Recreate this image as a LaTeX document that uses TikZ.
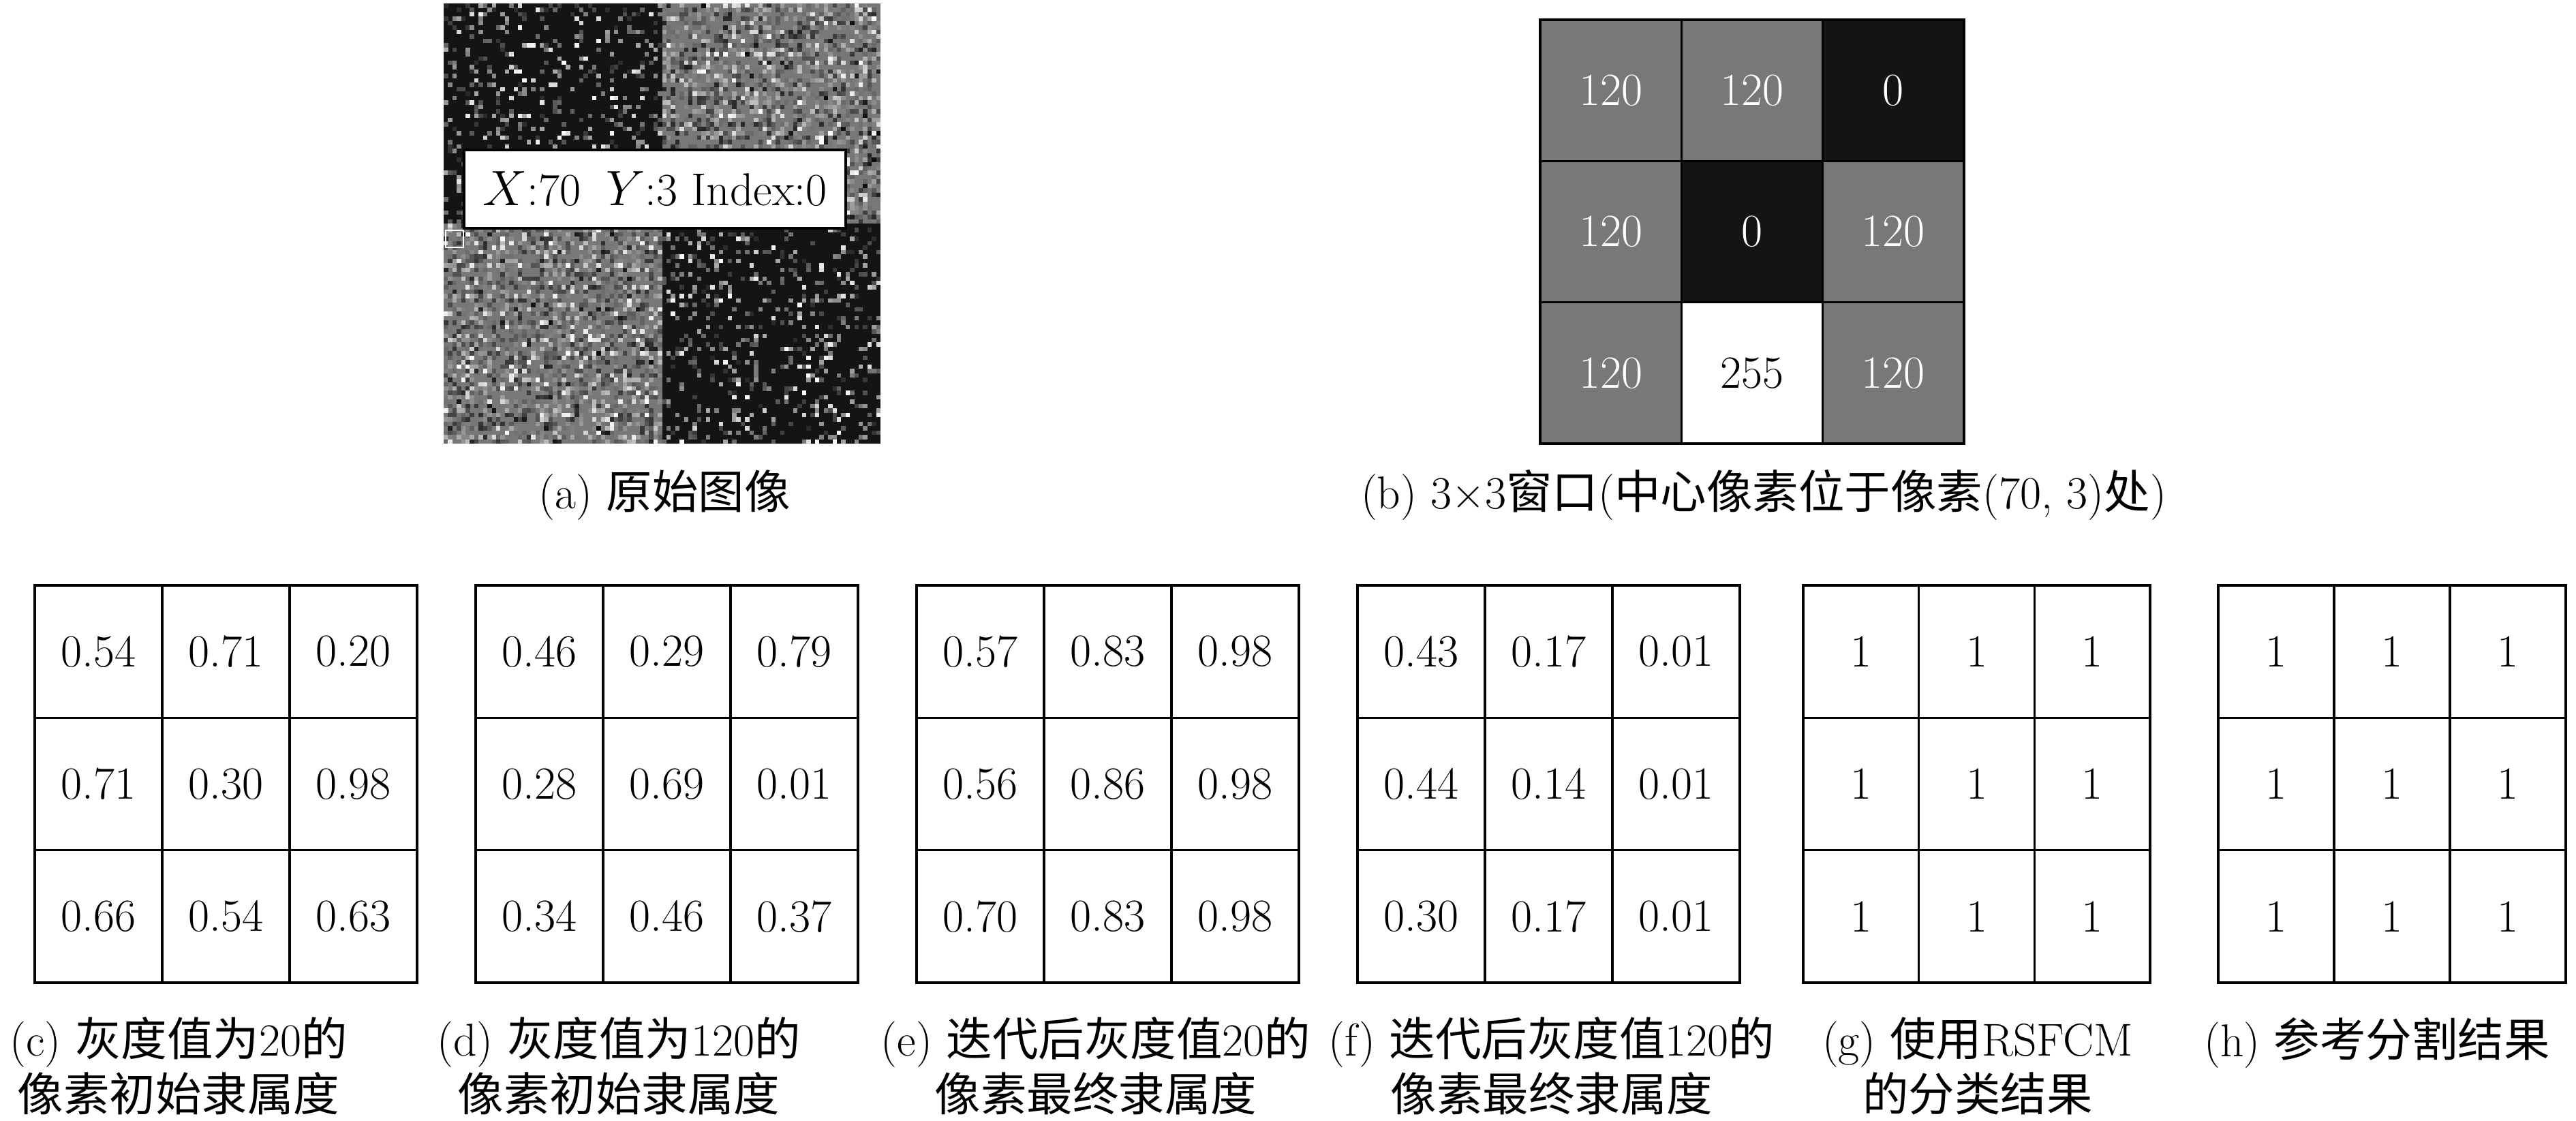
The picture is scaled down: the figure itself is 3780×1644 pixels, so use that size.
\documentclass[tikz,border=0pt]{standalone}
\usepackage{fontspec}
\newfontfamily\cjk{Noto Sans CJK SC}
\definecolor{gA}{HTML}{787878}
\definecolor{gB}{HTML}{141414}
\newcommand\myfs{\fontsize{19.2}{22.76}\selectfont}
\tikzset{
  cell/.style={draw=black, line width=1pt, inner sep=0pt, font=\myfs, minimum height=1.9433cm},
  bcell/.style={draw=black, line width=1pt, inner sep=0pt, font=\myfs, minimum width=2.0733cm, minimum height=2.0733cm},
  captxt/.style={inner sep=0pt, font=\myfs, align=center, anchor=base},
  lbl/.style={draw=black, fill=white, line width=1pt, inner sep=0pt, font=\myfs, minimum width=5.6cm, minimum height=1.15cm}
}
\newcommand\memgrid[4]{% #1 prefix, #2 left x, #3 cell width, #4 values
  \foreach \v [count=\k from 0] in {#4} {
    \pgfmathtruncatemacro\cc{mod(\k,3)}
    \pgfmathtruncatemacro\rr{div(\k,3)}
    \node[cell, minimum width=#3*0.01cm] (#1\rr\cc) at ({#2+(\cc+0.5)*#3},{859+(\rr+0.5)*194.33}) {\v};
  }
}
\begin{document}
\begin{tikzpicture}[x=0.01cm, y=-0.01cm]
\useasboundingbox (0,0) rectangle (3780,1644);
% (a) noisy image
\fill[gB] (651,5) rectangle (971.5,328);
\fill[gA] (971.5,5) rectangle (1292,328);
\fill[gA] (651,328) rectangle (971.5,651);
\fill[gB] (971.5,328) rectangle (1292,651);
\pgfmathsetseed{2024}
\foreach \i in {0,...,99}{
  \foreach \j in {0,...,99}{
    \pgfmathsetmacro\r{rnd}
    \pgfmathtruncatemacro\dk{((\i<50)==(\j<50))}
    \ifnum\dk=1
      \ifdim\r pt<0.2pt
        \pgfmathtruncatemacro\g{rnd<0.15 ? 80+20*rnd : 16+52*rnd}
        \fill[white!\g!black] ({651+\i*6.41},{5+\j*6.46}) rectangle ++(6.5,6.5);
      \fi
    \else
      \ifdim\r pt<0.6pt
        \pgfmathtruncatemacro\g{rnd<0.1 ? 80+20*rnd : 4+80*(rnd+rnd)/2}
        \fill[white!\g!black] ({651+\i*6.41},{5+\j*6.46}) rectangle ++(6.5,6.5);
      \fi
    \fi
  }
}
\draw[white, line width=0.6pt] (654,338) rectangle (680,363);
\node[lbl] (lab) at (961,277.5) {$X$:70\hspace{0.55em}$Y$:3 Index:0};
\node[captxt] (capa) at (975,746) {(a) {\cjk 原始图像}};
% (b) 3x3 window
\foreach \f/\t/\v [count=\k from 0] in {gA/white/120, gA/white/120, gB/white/0, gA/white/120, gB/white/0, gA/white/120, gA/white/120, white/black/255, gA/white/120}{
  \pgfmathtruncatemacro\cc{mod(\k,3)}
  \pgfmathtruncatemacro\rr{div(\k,3)}
  \node[bcell, fill=\f, text=\t] (b\rr\cc) at ({2260+(\cc+0.5)*207.33},{29+(\rr+0.5)*207.33}) {\v};
}
\node[captxt] (capb) at (2588,746) {(b) 3×3{\cjk 窗口}({\cjk 中心像素位于像素}(70, 3){\cjk 处})};
% bottom grids
\memgrid{c}{51}{187}{0.54,0.71,0.20,0.71,0.30,0.98,0.66,0.54,0.63}
\memgrid{d}{698}{187}{0.46,0.29,0.79,0.28,0.69,0.01,0.34,0.46,0.37}
\memgrid{e}{1345}{187}{0.57,0.83,0.98,0.56,0.86,0.98,0.70,0.83,0.98}
\memgrid{f}{1992}{187}{0.43,0.17,0.01,0.44,0.14,0.01,0.30,0.17,0.01}
\memgrid{g}{2646}{169.67}{1,1,1,1,1,1,1,1,1}
\memgrid{h}{3255}{170}{1,1,1,1,1,1,1,1,1}
\node[captxt] (capc) at (262,1630) {(c) {\cjk 灰度值为}20{\cjk 的}\\{\cjk 像素初始隶属度}};
\node[captxt] (capd) at (908,1630) {(d) {\cjk 灰度值为}120{\cjk 的}\\{\cjk 像素初始隶属度}};
\node[captxt] (cape) at (1608,1630) {(e) {\cjk 迭代后灰度值}20{\cjk 的}\\{\cjk 像素最终隶属度}};
\node[captxt] (capf) at (2277,1630) {(f) {\cjk 迭代后灰度值}120{\cjk 的}\\{\cjk 像素最终隶属度}};
\node[captxt] (capg) at (2902,1630) {(g) {\cjk 使用}RSFCM\\{\cjk 的分类结果}};
\node[captxt] (caph) at (3488,1550) {(h) {\cjk 参考分割结果}};
\end{tikzpicture}
\end{document}
